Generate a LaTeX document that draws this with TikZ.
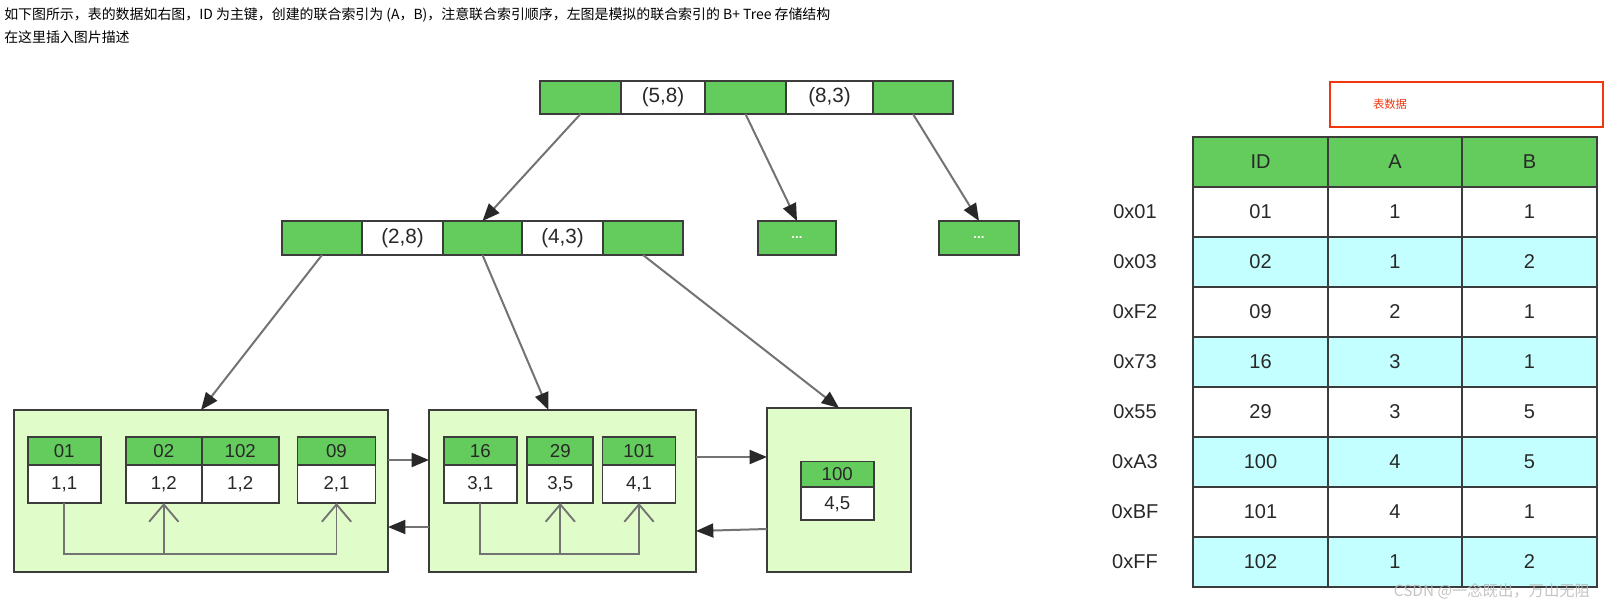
\documentclass[tikz,border=0pt]{standalone}
\usepackage{fontspec}
\setmainfont{Liberation Sans}
\newfontfamily\cjk{Noto Sans CJK SC}
\usetikzlibrary{arrows.meta,calc}
\definecolor{gr}{RGB}{100,204,92}
\definecolor{lf}{RGB}{224,252,200}
\definecolor{cy}{RGB}{196,255,255}
\definecolor{bd}{RGB}{60,60,60}
\definecolor{tx}{RGB}{40,40,40}
\definecolor{ln}{RGB}{115,115,115}
\definecolor{hd}{RGB}{40,40,40}
\definecolor{rd}{RGB}{240,55,15}
\begin{document}
\begin{tikzpicture}[x=0.75pt,y=-0.75pt,
  base/.style={draw=bd, line width=1.3pt, inner sep=0pt, outer sep=0pt, text=tx},
  wd/.style={minimum width=#1*0.75pt},
  ht/.style={minimum height=#1*0.75pt},
  gseg/.style={base, fill=gr},
  wseg/.style={base, fill=white},
  leaf/.style={base, fill=lf},
  knode/.style={font=\fontsize{15.5}{17}\selectfont},
  rnode/.style={font=\fontsize{14}{16}\selectfont},
  dots/.style={text=white, font=\bfseries\fontsize{10}{11}\selectfont},
  tarrow/.style={draw=ln, line width=1.5pt, -{Triangle[length=13pt,width=10.5pt,color=hd]}},
  oarrow/.style={draw=ln, line width=1.4pt, -{Straight Barb[length=13pt,width=22pt]}},
  cell/.style={base, line width=1.5pt, wd=134.7, ht=50, font=\fontsize{15}{17}\selectfont},
  lab/.style={text=tx, font=\fontsize{15}{17}\selectfont}
]
\useasboundingbox (0,0) rectangle (1622,609);

% header text
\node[anchor=west, inner sep=0pt, text=black, font=\cjk\fontsize{10.45}{12}\selectfont] (t1) at (4,14.5)
  {如下图所示，表的数据如右图，ID 为主键，创建的联合索引为 (A，B)，注意联合索引顺序，左图是模拟的联合索引的 B+ Tree 存储结构};
\node[anchor=west, inner sep=0pt, text=black, font=\cjk\fontsize{10.45}{12}\selectfont] (t2) at (4,37)
  {在这里插入图片描述};

% root
\node[gseg, wd=81, ht=33] (r1) at (580.5,97.5) {};
\node[wseg, wd=84, ht=33, knode] (r2) at (663,97.5) {(5,8)};
\node[gseg, wd=81, ht=33] (r3) at (745.5,97.5) {};
\node[wseg, wd=87, ht=33, knode] (r4) at (829.5,97.5) {(8,3)};
\node[gseg, wd=80, ht=33] (r5) at (913,97.5) {};

% level 2
\node[gseg, wd=80, ht=34] (s1) at (322,238) {};
\node[wseg, wd=81, ht=34, knode] (s2) at (402.5,238) {(2,8)};
\node[gseg, wd=79, ht=34] (s3) at (482.5,238) {};
\node[wseg, wd=81, ht=34, knode] (s4) at (562.5,238) {(4,3)};
\node[gseg, wd=80, ht=34] (s5) at (643,238) {};
\node[gseg, wd=78, ht=34, dots] (d1) at (797,238) {...};
\node[gseg, wd=80, ht=34, dots] (d2) at (979,238) {...};

% leaves
\node[leaf, wd=374, ht=162] (L1) at (201,491) {};
\node[leaf, wd=267, ht=162] (L2) at (562.5,491) {};
\node[leaf, wd=144, ht=164] (L3) at (839,490) {};

% records leaf 1
\node[gseg, wd=73, ht=28, rnode] (k01) at (64.2,451) {01};
\node[wseg, wd=73, ht=38, rnode] (v01) at (64.2,484) {1,1};
\node[gseg, wd=76, ht=28, rnode] (k02) at (163.8,451) {02};
\node[wseg, wd=76, ht=38, rnode] (v02) at (163.8,484) {1,2};
\node[gseg, wd=77, ht=28, rnode] (k102) at (240.2,451) {102};
\node[wseg, wd=77, ht=38, rnode] (v102) at (240.2,484) {1,2};
\node[gseg, wd=78, ht=28, rnode] (k09) at (336.5,451) {09};
\node[wseg, wd=78, ht=38, rnode] (v09) at (336.5,484) {2,1};

% records leaf 2
\node[gseg, wd=73, ht=28, rnode] (k16) at (480.3,451) {16};
\node[wseg, wd=73, ht=38, rnode] (v16) at (480.3,484) {3,1};
\node[gseg, wd=66, ht=28, rnode] (k29) at (560.3,451) {29};
\node[wseg, wd=66, ht=38, rnode] (v29) at (560.3,484) {3,5};
\node[gseg, wd=73, ht=28, rnode] (k101) at (639,451) {101};
\node[wseg, wd=73, ht=38, rnode] (v101) at (639,484) {4,1};

% record leaf 3
\node[gseg, wd=73, ht=26, rnode] (k100) at (837.3,474.5) {100};
\node[wseg, wd=73, ht=33, rnode] (v100) at (837.3,503.8) {4,5};

% tree arrows
\coordinate (L2in) at ($(L2.north)+(-14,0)$);
\draw[tarrow] (r1.south) -- (s3.north);
\draw[tarrow] (r3.south) -- (d1.north);
\draw[tarrow] (r5.south) -- (d2.north);
\draw[tarrow] (s1.south) -- (L1.north);
\draw[tarrow] (s3.south) -- (L2in);
\draw[tarrow] (s5.south) -- (L3.north);

% leaf links
\draw[tarrow] (L1.east |- 0,460) -- (L2.west |- 0,460);
\draw[tarrow] (L2.west |- 0,527) -- (L1.east |- 0,527);
\draw[tarrow] (L2.east |- 0,457) -- (L3.west |- 0,457);
\coordinate (b3) at (L3.west |- 0,529);
\coordinate (b2) at (L2.east |- 0,531);
\draw[tarrow] (b3) -- (b2);

% inner pointers
\coordinate (j1) at (v02.south |- 0,554);
\draw[oarrow] (v01.south) |- (j1) -| (v09.south);
\draw[oarrow] (j1) -- (v02.south);
\coordinate (j2) at (v29.south |- 0,554);
\draw[oarrow] (v16.south) |- (j2) -| (v101.south);
\draw[oarrow] (j2) -- (v29.south);

% red label box
\node[draw=rd, line width=1.4pt, wd=273, ht=45, inner sep=0pt] (rb) at (1466.5,104.5) {};
\node[text=rd, inner sep=0pt, font=\cjk\fontsize{8.5}{10}\selectfont] (rbt) at (1390,104) {表数据};

% table
\node[cell, fill=gr] (h1) at (1260.5,162) {ID};
\node[cell, fill=gr] (h2) at (1395,162) {A};
\node[cell, fill=gr] (h3) at (1529.5,162) {B};
\foreach \i/\lb/\id/\a/\b/\c in {1/0x01/01/1/1/white, 2/0x03/02/1/2/cy, 3/0xF2/09/2/1/white, 4/0x73/16/3/1/cy, 5/0x55/29/3/5/white, 6/0xA3/100/4/5/cy, 7/0xBF/101/4/1/white, 8/0xFF/102/1/2/cy}{
  \node[lab] (lab\i) at (1135,{162+50*\i}) {\lb};
  \node[cell, fill=\c] (ca\i) at (1260.5,{162+50*\i}) {\id};
  \node[cell, fill=\c] (cb\i) at (1395,{162+50*\i}) {\a};
  \node[cell, fill=\c] (cc\i) at (1529.5,{162+50*\i}) {\b};
}

% watermark
\node[inner sep=0pt, text=gray!55, opacity=0.85, font=\cjk\fontsize{11.5}{13}\selectfont] (wm) at (1492,591) {CSDN @一念既出，万山无阻};
\end{tikzpicture}
\end{document}
